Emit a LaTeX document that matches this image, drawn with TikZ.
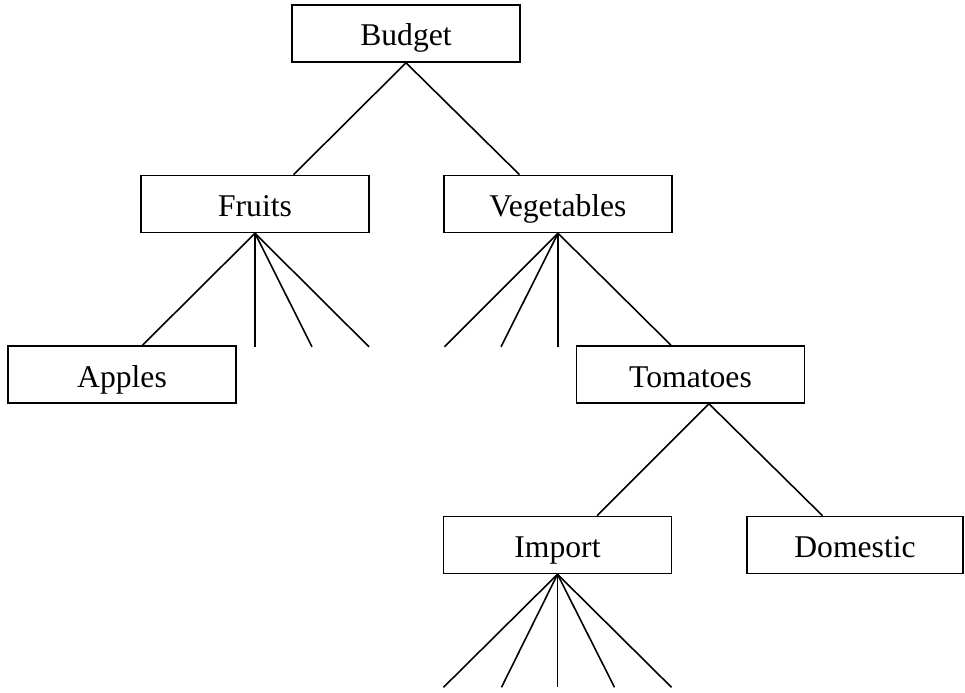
\documentclass[tikz,border=0pt]{standalone}
\usepackage{fontspec}
\setmainfont{Liberation Serif}
\begin{document}
\begin{tikzpicture}[node distance={3.41cm}, line width=0.9pt]
                \tikzstyle{box} = [rectangle, draw, minimum width=4.56cm, minimum height=1.14cm, inner sep=0pt, text height=0.5cm, text depth=0pt, font=\fontsize{18}{20}\selectfont]
                \useasboundingbox (0,0) rectangle (19.3,-13.86);

                % Top of the tree
                \node[box] (budget) at (8.12,-0.67) {Budget};

                % Second row
                \node[box] (fruits) [below of=budget, xshift=-3.02cm] {Fruits};
                \node[box] (veg) [below of=budget, xshift=3.04cm] {Vegetables};

                % Third row
                \node[box] (apples) [below of=fruits, xshift=-2.66cm] {Apples};
                \node[box] (tomatoes) [below of=veg, xshift=2.65cm] {Tomatoes};

                % Fourth row
                \node[box] (import) [below of=tomatoes, xshift=-2.66cm] {Import};
                \node[box, minimum width=4.32cm] (domestic) [below of=tomatoes, xshift=3.29cm] {Domestic};

                % Open ends of the branches
                \coordinate (f2) at ([yshift=-2.27cm]fruits.south);
                \coordinate (f3) at ([xshift=1.14cm, yshift=-2.27cm]fruits.south);
                \coordinate (f4) at ([xshift=2.28cm, yshift=-2.27cm]fruits.south);
                \coordinate (v1) at ([xshift=-2.27cm, yshift=-2.27cm]veg.south);
                \coordinate (v2) at ([xshift=-1.14cm, yshift=-2.27cm]veg.south);
                \coordinate (v3) at ([yshift=-2.27cm]veg.south);
                \coordinate (i1) at ([xshift=-2.28cm, yshift=-2.26cm]import.south);
                \coordinate (i2) at ([xshift=-1.12cm, yshift=-2.26cm]import.south);
                \coordinate (i3) at ([yshift=-2.26cm]import.south);
                \coordinate (i4) at ([xshift=1.14cm, yshift=-2.26cm]import.south);
                \coordinate (i5) at ([xshift=2.28cm, yshift=-2.26cm]import.south);

                \draw (budget.south) -- ([xshift=0.77cm]fruits.north);
                \draw (budget.south) -- ([xshift=-0.77cm]veg.north);
                \draw (fruits.south) -- ([xshift=0.41cm]apples.north);
                \draw (fruits.south) -- (f2);
                \draw (fruits.south) -- (f3);
                \draw (fruits.south) -- (f4);
                \draw (veg.south) -- (v1);
                \draw (veg.south) -- (v2);
                \draw (veg.south) -- (v3);
                \draw (veg.south) -- ([xshift=-0.39cm]tomatoes.north);
                \draw ([xshift=0.37cm]tomatoes.south) -- ([xshift=0.79cm]import.north);
                \draw ([xshift=0.37cm]tomatoes.south) -- ([xshift=-0.65cm]domestic.north);
                \draw (import.south) -- (i1);
                \draw (import.south) -- (i2);
                \draw (import.south) -- (i3);
                \draw (import.south) -- (i4);
                \draw (import.south) -- (i5);
            \end{tikzpicture}
\end{document}
